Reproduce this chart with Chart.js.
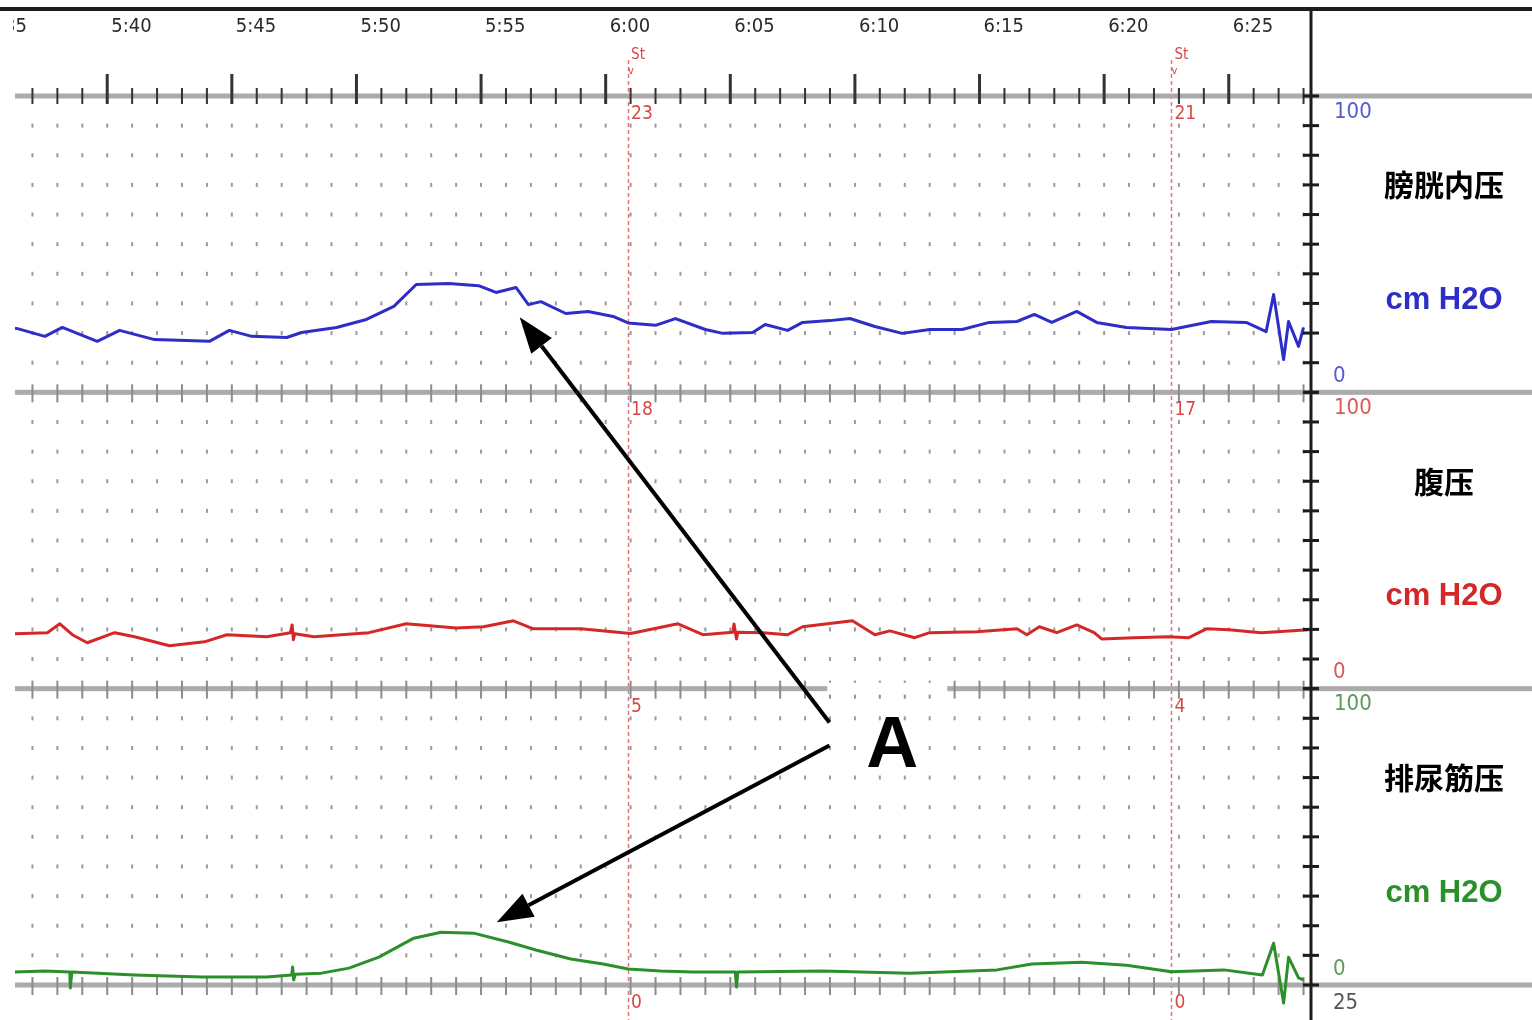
<!DOCTYPE html>
<html>
<head>
<meta charset="utf-8">
<script src="https://cdn.jsdelivr.net/npm/chart.js@4.4.1/dist/chart.umd.min.js"></script>
<style>
html,body{margin:0;padding:0;background:#fff;overflow:hidden}
canvas{display:block}
</style>
</head>
<body>
<canvas id="trace" width="1532" height="1020"></canvas>
<script>
// time in minutes after 5:00
const tMin=36.3, tMax=88.3;
const clockMarks=[35,40,45,50,55,60,65,70,75,80,85];
const clockLabels=['5:35','5:40','5:45','5:50','5:55','6:00','6:05','6:10','6:15','6:20','6:25'];

// Pves - bladder pressure (cm H2O)
const vesT=[36.3,36.4,37.5,38.2,39.6,40.5,41.9,44.1,44.9,45.8,
    47.2,47.8,49.2,50.4,51.5,52.4,53.7,54.9,55.6,56.4,
    56.9,57.4,58.4,59.3,60.3,60.9,62.0,62.8,64.0,64.7,
    65.9,66.4,67.3,67.9,69.0,69.8,70.8,71.9,73.0,74.3,
    75.4,76.5,77.2,77.9,78.9,79.7,80.9,82.7,84.3,85.7,
    86.5,86.8,87.2,87.4,87.8,88.0];
const vesP=[21.6,21.5,18.9,21.9,17.2,20.9,17.8,17.2,20.9,18.9,
    18.5,20.2,21.9,24.6,29.0,36.4,36.7,36.0,33.7,35.4,
    29.6,30.6,26.6,27.3,25.6,23.4,22.6,24.9,21.2,19.9,
    20.2,22.9,20.9,23.6,24.2,24.9,22.2,19.9,21.2,21.2,
    23.6,23.9,26.3,23.6,27.3,23.6,21.9,21.2,23.9,23.6,
    20.5,33.0,11.1,23.9,15.5,21.9];

// Pabd - abdominal pressure
const abdT=[36.3,37.6,38.1,38.6,39.2,40.3,41.1,42.5,43.9,44.8,
    46.4,47.35,47.42,47.47,47.52,48.3,50.5,52.0,54.0,55.1,
    56.3,57.1,59.0,61.0,62.9,63.9,65.1,65.15,65.25,65.3,
    66.3,67.3,67.9,68.9,69.9,70.8,71.4,72.4,73.0,74.9,
    76.5,76.9,77.4,78.1,78.9,79.6,79.9,81.2,82.6,83.4,
    84.1,85.0,86.3,88.2];
const abdP=[18.5,18.9,21.9,18.2,15.5,18.9,17.5,14.5,15.8,18.2,
    17.5,18.9,21.5,16.5,18.5,17.5,18.9,21.9,20.5,20.9,
    22.9,20.2,20.2,18.6,21.9,18.2,19.0,21.8,16.8,19.0,
    18.9,18.2,20.9,21.9,22.9,18.2,19.5,17.2,18.9,19.2,
    20.2,18.2,20.9,18.9,21.5,18.9,16.8,17.2,17.5,17.2,
    20.2,19.9,18.9,19.9];

// Pdet - detrusor pressure
const detT=[36.3,37.5,38.5,38.52,38.58,41.1,43.8,46.4,47.4,47.44,
    47.48,47.55,48.6,49.7,50.9,52.3,53.4,54.7,56.1,57.2,
    58.6,59.9,60.9,62.2,63.5,65.2,65.25,65.3,68.7,72.2,
    75.7,77.1,79.1,80.9,82.7,84.8,86.35,86.8,87.2,87.4,
    87.8,88.0];
const detP=[4.4,4.7,4.4,-1.0,4.4,3.4,2.7,2.7,3.4,6.1,
    1.7,3.6,4.0,5.7,9.4,15.8,17.8,17.5,14.5,11.8,
    8.8,7.1,5.4,4.7,4.4,4.4,-0.7,4.4,4.7,4.0,
    5.1,7.1,7.7,6.7,4.5,5.1,3.4,14.1,-6.1,9.4,
    2.4,1.7];

// stress events and the values printed beside them
const eventTimes=[60.9,82.7];
const eventVes=[23,21];
const eventAbd=[18,17];
const eventDet=[5,4];
const eventNext=[0,0];

const channelNames=['膀胱内压','腹压','排尿筋压'];
const channelColors=['#2d2dc8','#d42828','#2b8f2b'];
const channelAxisColors=['#5a5ad0','#d85a5a','#5a9a5a'];

const pts=(t,v)=>t.map((x,i)=>({x,y:v[i]}));
const NARROW='"Liberation Sans Narrow","DejaVu Sans Condensed",sans-serif';

function drawArrow(ctx,x0,y0,x1,y1) {
    const ang=Math.atan2(y1-y0,x1-x0), L=36, hw=13;
    const bx=x1-L*Math.cos(ang), by=y1-L*Math.sin(ang);
    ctx.beginPath(); ctx.moveTo(x0,y0); ctx.lineTo(bx,by); ctx.stroke();
    ctx.beginPath(); ctx.moveTo(x1,y1);
    ctx.lineTo(bx+hw*Math.sin(ang),by-hw*Math.cos(ang));
    ctx.lineTo(bx-hw*Math.sin(ang),by+hw*Math.cos(ang));
    ctx.closePath(); ctx.fill();
}

// label "A" and the two arrows pointing at the pressure rises
const markA={x:71.5,y:80.8,axis:'yDet'};
const arrows=[
    {from:{x:68.98,y:88.6,axis:'yDet'},to:{x:56.55,y:25.3,axis:'yVes'}},
    {from:{x:68.98,y:80.8,axis:'yDet'},to:{x:55.63,y:21.2,axis:'yDet'}}
];

const tracePaper={
    id:'tracePaper',
    beforeDatasetsDraw(chart) {
        const {ctx,chartArea:a,scales}=chart;
        const x=scales.x, W=chart.width, H=chart.height;
        const panels=[scales.yVes,scales.yAbd,scales.yDet];
        ctx.save();

        // dot grid, one dot per minute and per 10 cm H2O
        ctx.fillStyle='#9a9a9a';
        panels.forEach(s=>{
            for (let v=10;v<100;v+=10) {
                const y=s.getPixelForValue(v);
                for (let m=Math.ceil(tMin);m<=tMax;m++) ctx.fillRect(x.getPixelForValue(m)-1,y-2,2,4);
            }
        });

        // red stress event lines
        ctx.strokeStyle='rgba(220,70,70,.75)'; ctx.lineWidth=1.5; ctx.setLineDash([4,3]);
        eventTimes.forEach(t=>{
            const px=Math.round(x.getPixelForValue(t))+.5;
            ctx.beginPath(); ctx.moveTo(px,60); ctx.lineTo(px,H); ctx.stroke();
        });
        ctx.setLineDash([]);

        // channel separators with minute ticks
        const rows=[a.top,...panels.map(s=>s.bottom)];
        ctx.fillStyle='#ababab';
        rows.forEach(y=>ctx.fillRect(a.left,y-2.5,W-a.left,5));
        ctx.fillStyle='#8c8c8c';
        rows.slice(1).forEach(y=>{
            for (let m=Math.ceil(tMin);m<=tMax;m++) ctx.fillRect(x.getPixelForValue(m)-1,y-8,2,18);
        });

        // time ruler on the top separator
        ctx.fillStyle='#333';
        for (let m=Math.ceil(tMin);m<=tMax;m++) {
            const px=x.getPixelForValue(m);
            if (m%5===0) ctx.fillRect(px-1.5,a.top-22,3,30);
            else ctx.fillRect(px-1,a.top-8,2,16);
        }

        // white box behind the "A"
        const ax=x.getPixelForValue(markA.x);
        ctx.fillStyle='#fff';
        ctx.fillRect(ax-65,scales.yDet.top-6,120,12);

        ctx.restore();
    },
    afterDatasetsDraw(chart) {
        const {ctx,chartArea:a,scales}=chart;
        const x=scales.x, W=chart.width, H=chart.height;
        const panels=[scales.yVes,scales.yAbd,scales.yDet];
        ctx.save();

        // frame: top bar and right axis
        ctx.fillStyle='#1c1c1c';
        ctx.fillRect(0,7,W,4);
        ctx.fillRect(a.right-1.5,7,3,H-7);
        panels.forEach(s=>{
            for (let v=0;v<=100;v+=10) ctx.fillRect(a.right-8,s.getPixelForValue(v)-1.5,16,3);
        });

        // clock labels (the first one runs off the left edge)
        ctx.save();
        ctx.beginPath(); ctx.rect(13,0,a.right,60); ctx.clip();
        ctx.font='20px '+NARROW; ctx.fillStyle='#2a2a2a';
        ctx.textAlign='left'; ctx.textBaseline='middle';
        clockMarks.forEach((m,i)=>ctx.fillText(clockLabels[i],x.getPixelForValue(m)+4,27));
        ctx.restore();
        ctx.textBaseline='middle';

        // event labels
        ctx.fillStyle='#d84848';
        const evVals=[eventVes,eventAbd,eventDet];
        eventTimes.forEach((t,i)=>{
            const px=x.getPixelForValue(t)+3;
            ctx.textAlign='left';
            ctx.font='15px '+NARROW;
            ctx.fillText('St',px,55);
            ctx.font='11px '+NARROW;
            ctx.fillText('v',px-3,71);
            ctx.font='19px '+NARROW;
            panels.forEach((s,k)=>ctx.fillText(String(evVals[k][i]),px,s.top+18));
            ctx.fillText(String(eventNext[i]),px,a.bottom+18);
        });

        // channel scale labels and names
        panels.forEach((s,k)=>{
            ctx.textAlign='left'; ctx.fillStyle=channelAxisColors[k];
            ctx.font='22px '+NARROW;
            ctx.fillText('100',a.right+23,s.getPixelForValue(100)+16);
            ctx.fillText('0',a.right+22,s.getPixelForValue(0)-16);
            const cx=a.right+133;
            ctx.textAlign='center';
            ctx.fillStyle='#000'; ctx.font='bold 30px "Noto Sans CJK SC",sans-serif';
            ctx.fillText(channelNames[k],cx,s.getPixelForValue(70));
            ctx.fillStyle=channelColors[k]; ctx.font='bold 31px "Liberation Sans",Arial,sans-serif';
            ctx.fillText('cm H2O',cx,s.getPixelForValue(31));
        });
        ctx.textAlign='left'; ctx.fillStyle='#555'; ctx.font='22px '+NARROW;
        ctx.fillText('25',a.right+22,a.bottom+18);

        // arrows and "A"
        ctx.strokeStyle='#000'; ctx.fillStyle='#000'; ctx.lineWidth=4;
        arrows.forEach(ar=>{
            drawArrow(ctx,
                x.getPixelForValue(ar.from.x),scales[ar.from.axis].getPixelForValue(ar.from.y),
                x.getPixelForValue(ar.to.x),scales[ar.to.axis].getPixelForValue(ar.to.y));
        });
        ctx.textAlign='center';
        ctx.font='bold 72px "Liberation Sans",Arial,sans-serif';
        ctx.fillText('A',x.getPixelForValue(markA.x),scales[markA.axis].getPixelForValue(markA.y)+2);

        ctx.restore();
    }
};

const yAxis=()=>({
    type:'linear',position:'right',stack:'ch',stackWeight:1,offset:false,
    min:0,max:100,
    ticks:{display:false},grid:{display:false},border:{display:false},
    afterFit(s){s.width=221;}
});

new Chart(document.getElementById('trace'),{
    type:'line',
    data:{datasets:[
        {label:'Pves',data:pts(vesT,vesP),yAxisID:'yVes',borderColor:channelColors[0],borderWidth:3,clip:false},
        {label:'Pabd',data:pts(abdT,abdP),yAxisID:'yAbd',borderColor:channelColors[1],borderWidth:3,clip:false},
        {label:'Pdet',data:pts(detT,detP),yAxisID:'yDet',borderColor:channelColors[2],borderWidth:3,clip:false}
    ]},
    options:{
        responsive:false,animation:false,
        layout:{padding:{top:96,bottom:35,left:15,right:0}},
        elements:{point:{radius:0},line:{tension:0,borderJoinStyle:'round'}},
        plugins:{legend:{display:false},tooltip:{enabled:false}},
        scales:{
            x:{type:'linear',min:tMin,max:tMax,display:false},
            yVes:yAxis(),
            yAbd:yAxis(),
            yDet:yAxis()
        }
    },
    plugins:[tracePaper]
});
</script>
</body>
</html>
